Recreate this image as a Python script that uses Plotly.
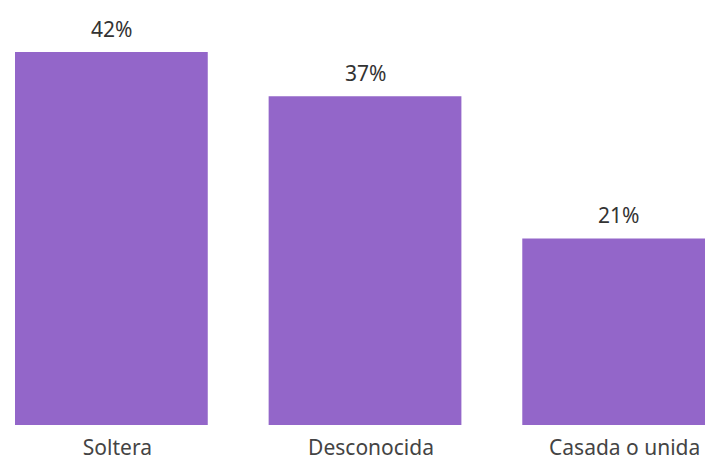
import plotly.graph_objects as go

categories = ["Soltera", "Desconocida", "Casada o unida"]
values = [42, 37, 21]
value_labels = ["42%", "37%", "21%"]

bar_color = "#9366C9"
font_family = "Noto Sans, Open Sans, sans-serif"

fig = go.Figure()
fig.add_trace(go.Bar(
    x=categories,
    y=values,
    marker=dict(color=bar_color, line=dict(width=0)),
    hoverinfo="skip",
))

for c, v, t in zip(categories, values, value_labels):
    fig.add_annotation(x=c, y=v, text=t, showarrow=False, yanchor="bottom",
                       yshift=7, font=dict(family=font_family, size=21, color="#333333"))

fig.update_layout(
    width=713, height=460,
    margin=dict(l=7, r=0, t=0, b=43, autoexpand=False),
    paper_bgcolor="white", plot_bgcolor="white",
    bargap=0.24,
    showlegend=False,
    font=dict(family=font_family, size=21, color="#444444"),
)
fig.update_xaxes(range=[-0.38, 2.4035], showgrid=False, showline=False, zeroline=False,
                 ticks="", ticklabelshift=6, ticklabelstandoff=8,
                 tickfont=dict(size=21, color="#444444"))
fig.update_yaxes(range=[0, 46.95], visible=False)

fig.write_html("out.html")
